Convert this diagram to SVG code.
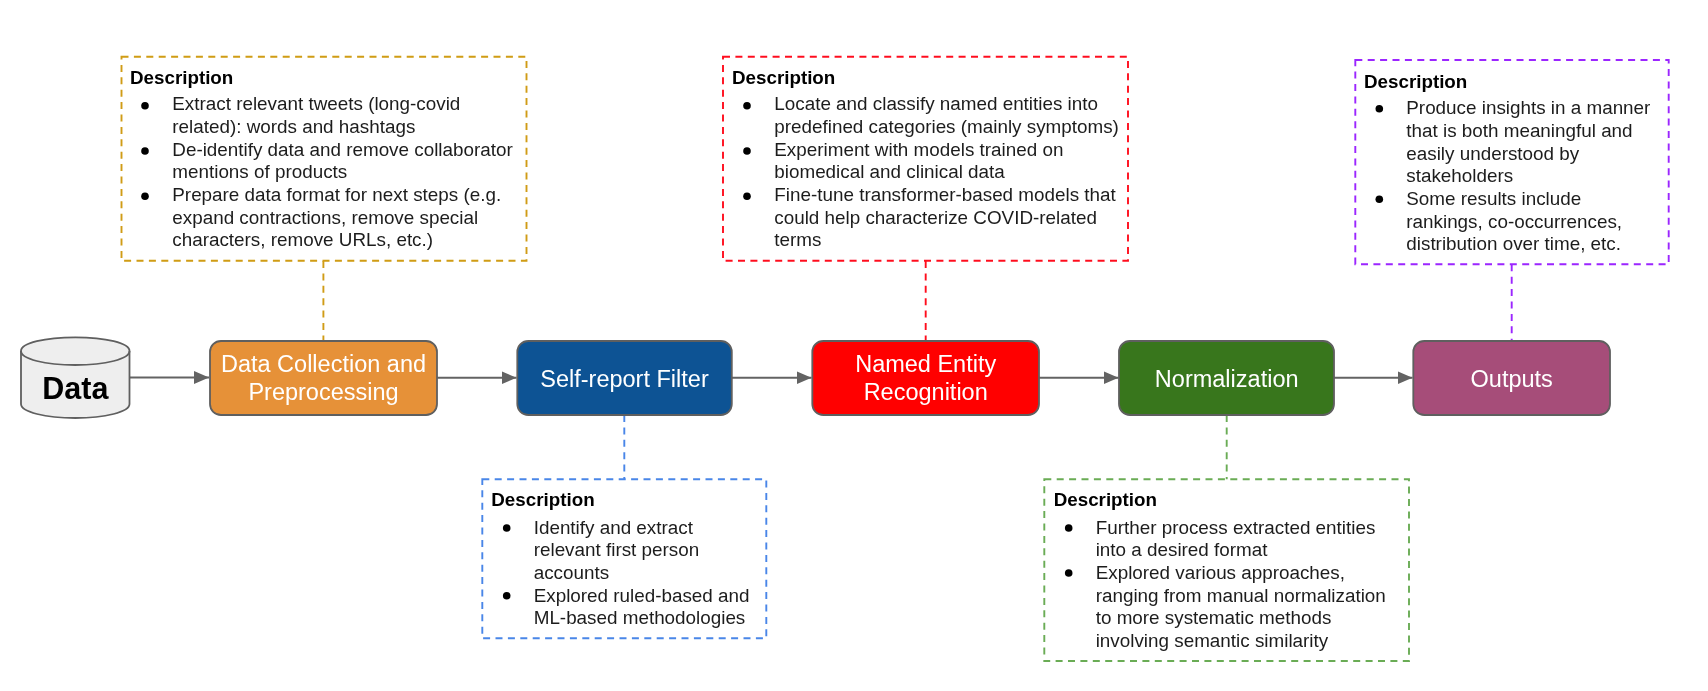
<svg xmlns="http://www.w3.org/2000/svg" width="1708" height="691" viewBox="0 0 1708 691">
<defs>
<marker id="arrow" markerUnits="userSpaceOnUse" markerWidth="16" markerHeight="14" refX="15" refY="7" orient="auto"><path d="M0 0.500L15 7L0 13.500Z" fill="#636363"/></marker>
<filter id="soft" filterUnits="userSpaceOnUse" x="0" y="0" width="1708" height="691"><feGaussianBlur stdDeviation="0.55"/></filter>
<style>
text{font-family:"Liberation Sans",Arial,sans-serif}
.node{stroke:#5f5f5f;stroke-width:1.8}
.lbl{fill:#fff;font-size:23.5px;text-anchor:middle}
.box{fill:none;stroke-width:1.9;stroke-dasharray:7 5.400}
.conn{stroke:#636363;stroke-width:1.9;fill:none;marker-end:url(#arrow)}
.dash{stroke-width:1.9;stroke-dasharray:7 5.400;fill:none}
.h{font-size:18.8px;font-weight:bold;fill:#000}
.t{font-size:18.85px;fill:#1c1c1c}
.b{fill:#000}
.gold{stroke:#d09c16}.blue{stroke:#4a86e8}.red{stroke:#ff0f1f}.green{stroke:#6aac55}.purple{stroke:#9b25ff}
</style>
</defs>
<rect width="1708" height="691" fill="#fff"/>
<g filter="url(#soft)">
<g id="connectors">
<path class="conn" d="M129.500 377.500H209"/>
<path class="conn" d="M437 377.800H516.500"/>
<path class="conn" d="M732 377.700H811.500"/>
<path class="conn" d="M1039 377.700H1118.500"/>
<path class="conn" d="M1334 377.700H1412.500"/>
<path class="dash gold" d="M323.400 261V341"/>
<path class="dash blue" d="M624.300 415V479.300"/>
<path class="dash red" d="M925.700 261V341"/>
<path class="dash green" d="M1226.700 415V479.300"/>
<path class="dash purple" d="M1511.700 264.300V341"/>
</g>
<g id="data">
<path d="M21 351C21 343 45 337.300 75.300 337.300S129.500 343 129.500 351V404C129.500 412 105 418 75.300 418S21 412 21 404Z" fill="#eeeeee" class="node"/>
<path d="M21 351C21 359 45 365 75.300 365S129.500 359 129.500 351" fill="none" class="node"/>
<text x="75.300" y="399" font-size="30.500" font-weight="bold" text-anchor="middle" fill="#000">Data</text>
</g>
<g id="preprocessing">
<rect class="node" x="210" y="341" width="227" height="74" rx="11" fill="#e69138"/>
<text class="lbl" x="323.500" y="372">Data Collection and</text>
<text class="lbl" x="323.500" y="400">Preprocessing</text>
</g>
<g id="filter">
<rect class="node" x="517.300" y="341" width="214.500" height="74" rx="11" fill="#0b5394"/>
<text class="lbl" x="624.500" y="386.500">Self-report Filter</text>
</g>
<g id="ner">
<rect class="node" x="812.300" y="341" width="226.700" height="74" rx="11" fill="#ff0000"/>
<text class="lbl" x="925.700" y="372">Named Entity</text>
<text class="lbl" x="925.700" y="400">Recognition</text>
</g>
<g id="normalization">
<rect class="node" x="1119" y="341" width="215" height="74" rx="11" fill="#38761d"/>
<text class="lbl" x="1226.700" y="386.500">Normalization</text>
</g>
<g id="outputs">
<rect class="node" x="1413.300" y="341" width="196.700" height="74" rx="11" fill="#a64d79"/>
<text class="lbl" x="1511.700" y="386.500">Outputs</text>
</g>
<g id="desc-preprocessing">
<rect class="box gold" x="121.500" y="56.700" width="405" height="204"/>
<text class="h" x="130" y="83.600">Description</text>
<circle class="b" cx="145" cy="105.700" r="3.800"/><circle class="b" cx="145" cy="151" r="3.800"/><circle class="b" cx="145" cy="196.300" r="3.800"/>
<text class="t" x="172.300" y="110.300">Extract relevant tweets (long-covid</text>
<text class="t" x="172.300" y="133">related): words and hashtags</text>
<text class="t" x="172.300" y="155.600">De-identify data and remove collaborator</text>
<text class="t" x="172.300" y="178.300">mentions of products</text>
<text class="t" x="172.300" y="201">Prepare data format for next steps (e.g.</text>
<text class="t" x="172.300" y="223.600">expand contractions, remove special</text>
<text class="t" x="172.300" y="246.300">characters, remove URLs, etc.)</text>
</g>
<g id="desc-filter">
<rect class="box blue" x="482.300" y="479.300" width="284" height="159"/>
<text class="h" x="491.300" y="506.300">Description</text>
<circle class="b" cx="506.700" cy="528" r="3.800"/><circle class="b" cx="506.700" cy="595.800" r="3.800"/>
<text class="t" x="533.700" y="533.600">Identify and extract</text>
<text class="t" x="533.700" y="556.300">relevant first person</text>
<text class="t" x="533.700" y="578.900">accounts</text>
<text class="t" x="533.700" y="601.600">Explored ruled-based and</text>
<text class="t" x="533.700" y="624.300">ML-based methodologies</text>
</g>
<g id="desc-ner">
<rect class="box red" x="723" y="56.700" width="405" height="204"/>
<text class="h" x="732" y="83.600">Description</text>
<circle class="b" cx="747" cy="105.700" r="3.800"/><circle class="b" cx="747" cy="151" r="3.800"/><circle class="b" cx="747" cy="196.300" r="3.800"/>
<text class="t" x="774.300" y="110.300">Locate and classify named entities into</text>
<text class="t" x="774.300" y="133">predefined categories (mainly symptoms)</text>
<text class="t" x="774.300" y="155.600">Experiment with models trained on</text>
<text class="t" x="774.300" y="178.300">biomedical and clinical data</text>
<text class="t" x="774.300" y="201">Fine-tune transformer-based models that</text>
<text class="t" x="774.300" y="223.600">could help characterize COVID-related</text>
<text class="t" x="774.300" y="246.300">terms</text>
</g>
<g id="desc-normalization">
<rect class="box green" x="1044.300" y="479.300" width="364.700" height="181.700"/>
<text class="h" x="1053.700" y="506.300">Description</text>
<circle class="b" cx="1068.700" cy="528" r="3.800"/><circle class="b" cx="1068.700" cy="573" r="3.800"/>
<text class="t" x="1095.700" y="533.600">Further process extracted entities</text>
<text class="t" x="1095.700" y="556.300">into a desired format</text>
<text class="t" x="1095.700" y="578.900">Explored various approaches,</text>
<text class="t" x="1095.700" y="601.600">ranging from manual normalization</text>
<text class="t" x="1095.700" y="624.300">to more systematic methods</text>
<text class="t" x="1095.700" y="646.900">involving semantic similarity</text>
</g>
<g id="desc-outputs">
<rect class="box purple" x="1355.300" y="60" width="313.400" height="204.300"/>
<text class="h" x="1364" y="87.600">Description</text>
<circle class="b" cx="1379.300" cy="108.700" r="3.800"/><circle class="b" cx="1379.300" cy="199.300" r="3.800"/>
<text class="t" x="1406.300" y="114.300">Produce insights in a manner</text>
<text class="t" x="1406.300" y="136.900">that is both meaningful and</text>
<text class="t" x="1406.300" y="159.600">easily understood by</text>
<text class="t" x="1406.300" y="182.300">stakeholders</text>
<text class="t" x="1406.300" y="204.900">Some results include</text>
<text class="t" x="1406.300" y="227.600">rankings, co-occurrences,</text>
<text class="t" x="1406.300" y="250.300">distribution over time, etc.</text>
</g>
</g>
</svg>
